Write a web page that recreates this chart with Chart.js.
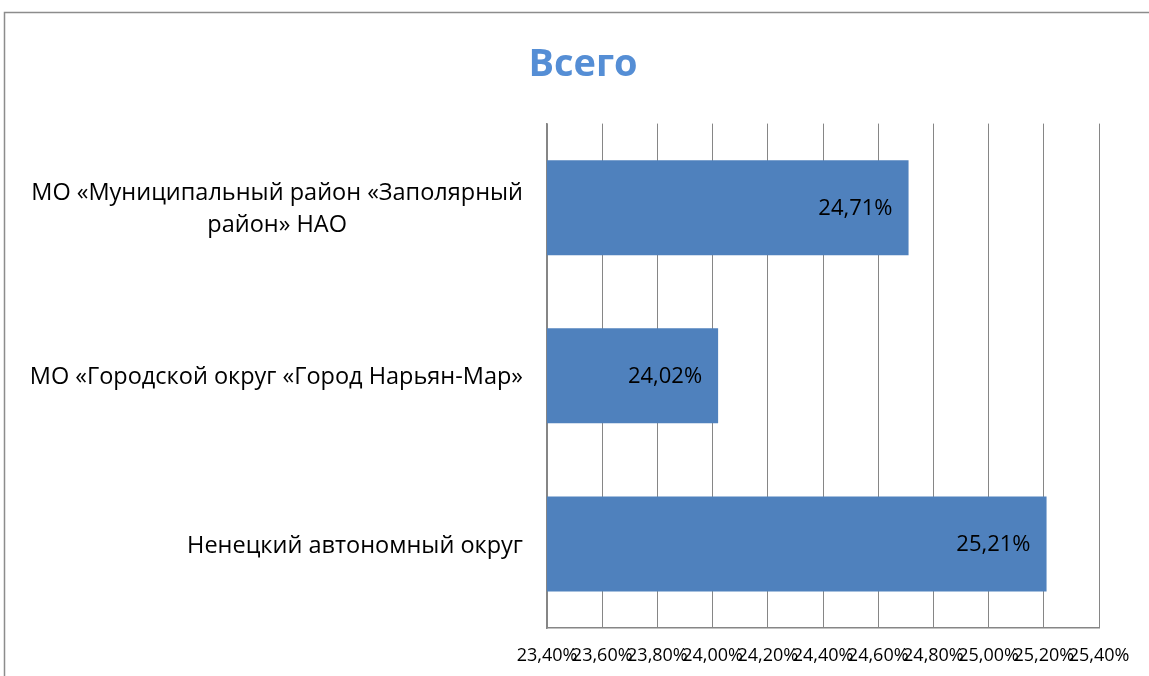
<!DOCTYPE html>
<html>
<head>
<meta charset="utf-8">
<script src="https://cdn.jsdelivr.net/npm/chart.js@4/dist/chart.umd.min.js"></script>
<style>
  body { margin: 0; background: #fff; }
</style>
</head>
<body>
<canvas id="shareChart" width="1149" height="676"></canvas>
<script>
const categories = [
  ['МО «Муниципальный район «Заполярный', 'район» НАО'],
  ['МО «Городской округ «Город Нарьян-Мар»'],
  ['Ненецкий автономный округ']
];
const values = [24.71, 24.02, 25.21];
const xMin = 23.4;
const xMax = 25.4;
const xStep = 0.2;

const fmt = v => v.toFixed(2).replace('.', ',') + '%';
const FONT = "'Open Sans', sans-serif";

// outer frame of the embedded chart
const framePlugin = {
  id: 'frame',
  beforeDraw(chart) {
    const ctx = chart.ctx;
    ctx.save();
    ctx.strokeStyle = '#8c8c8c';
    ctx.lineWidth = 1.5;
    ctx.beginPath();
    ctx.moveTo(4.5, 676);
    ctx.lineTo(4.5, 12.5);
    ctx.lineTo(1149, 12.5);
    ctx.stroke();
    ctx.restore();
  }
};

// category labels: block right-aligned, lines centred inside it
const catLabels = {
  id: 'catLabels',
  afterDraw(chart) {
    const ctx = chart.ctx;
    const yScale = chart.scales.y;
    const right = chart.chartArea.left - 24;
    const lh = 32;
    ctx.save();
    ctx.font = '23.5px ' + FONT;
    ctx.fillStyle = '#000';
    ctx.textAlign = 'center';
    ctx.textBaseline = 'middle';
    categories.forEach((lines, i) => {
      const y = yScale.getPixelForTick(i) + 2;
      const w = Math.max(...lines.map(l => ctx.measureText(l).width));
      const cx = right - w / 2;
      const y0 = y - (lines.length - 1) * lh / 2;
      lines.forEach((l, j) => ctx.fillText(l, cx, y0 + j * lh));
    });
    ctx.restore();
  }
};

// value labels inside the bar end
const valueLabels = {
  id: 'valueLabels',
  afterDatasetsDraw(chart) {
    const ctx = chart.ctx;
    const meta = chart.getDatasetMeta(0);
    ctx.save();
    ctx.font = '22px ' + FONT;
    ctx.fillStyle = '#000';
    ctx.textAlign = 'right';
    ctx.textBaseline = 'middle';
    meta.data.forEach((bar, i) => {
      ctx.fillText(fmt(values[i]), bar.x - 16, bar.y + 1);
    });
    ctx.restore();
  }
};

Chart.defaults.font.family = FONT;

new Chart(document.getElementById('shareChart'), {
  type: 'bar',
  data: {
    labels: categories.map(c => c.join(' ')),
    datasets: [{
      data: values,
      backgroundColor: '#4f81bd',
      borderWidth: 0,
      barPercentage: 0.565,
      categoryPercentage: 1
    }]
  },
  options: {
    indexAxis: 'y',
    responsive: false,
    animation: false,
    layout: { padding: { left: 67, right: 50, top: 0, bottom: 0 } },
    plugins: {
      legend: { display: false },
      tooltip: { enabled: false },
      title: {
        display: true,
        text: 'Всего',
        color: '#558ed5',
        font: { size: 38, weight: 'bold', family: FONT },
        padding: { top: 42, bottom: 36 }
      }
    },
    scales: {
      x: {
        min: xMin,
        max: xMax,
        ticks: {
          stepSize: xStep,
          color: '#000',
          font: { size: 18 },
          padding: 17,
          maxRotation: 0,
          autoSkip: false,
          callback: v => fmt(v)
        },
        grid: { color: '#868686', drawTicks: false },
        border: { color: '#868686', width: 1.5 },
        afterFit(scale) { scale.height = 48; }
      },
      y: {
        ticks: { display: false },
        grid: { display: false, drawTicks: false },
        border: { display: true, color: '#868686', width: 1.5 },
        afterFit(scale) { scale.width = 480; }
      }
    }
  },
  plugins: [framePlugin, catLabels, valueLabels]
});
</script>
</body>
</html>
